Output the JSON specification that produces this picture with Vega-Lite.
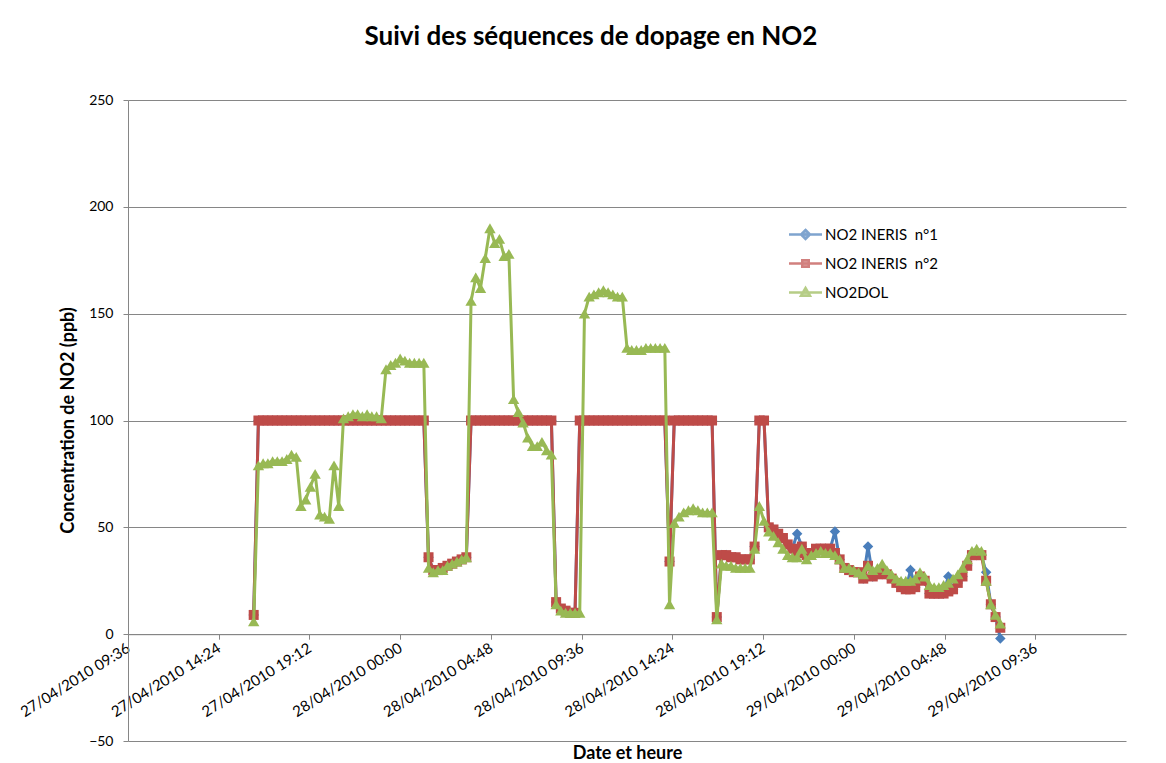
{
"$schema":"https://vega.github.io/schema/vega-lite/v6.json",
"autosize":{"type":"none"},
"padding":{"left":128,"top":100,"right":40,"bottom":22},
"width":998,"height":641,
"background":"white",
"title":{"text":"Suivi des séquences de dopage en NO2","font":"Lato","fontSize":26,"fontWeight":"bold","color":"black","anchor":"middle","dx":-36,"offset":22,"baseline":"alphabetic"},
"config":{"view":{"stroke":null}},
"data":{"values":[
{"t":"2010-04-27T16:15","n1":9,"n2":9,"dol":6},
{"t":"2010-04-27T16:30","n1":100,"n2":100,"dol":79},
{"t":"2010-04-27T16:45","n1":100,"n2":100,"dol":80},
{"t":"2010-04-27T17:00","n1":100,"n2":100,"dol":80},
{"t":"2010-04-27T17:15","n1":100,"n2":100,"dol":81},
{"t":"2010-04-27T17:30","n1":100,"n2":100,"dol":81},
{"t":"2010-04-27T17:45","n1":100,"n2":100,"dol":81},
{"t":"2010-04-27T18:00","n1":100,"n2":100,"dol":82},
{"t":"2010-04-27T18:15","n1":100,"n2":100,"dol":84},
{"t":"2010-04-27T18:30","n1":100,"n2":100,"dol":83},
{"t":"2010-04-27T18:45","n1":100,"n2":100,"dol":60},
{"t":"2010-04-27T19:00","n1":100,"n2":100,"dol":63},
{"t":"2010-04-27T19:15","n1":100,"n2":100,"dol":69},
{"t":"2010-04-27T19:30","n1":100,"n2":100,"dol":75},
{"t":"2010-04-27T19:45","n1":100,"n2":100,"dol":56},
{"t":"2010-04-27T20:00","n1":100,"n2":100,"dol":55},
{"t":"2010-04-27T20:15","n1":100,"n2":100,"dol":54},
{"t":"2010-04-27T20:30","n1":100,"n2":100,"dol":79},
{"t":"2010-04-27T20:45","n1":100,"n2":100,"dol":60},
{"t":"2010-04-27T21:00","n1":100,"n2":100,"dol":101},
{"t":"2010-04-27T21:15","n1":100,"n2":100,"dol":102},
{"t":"2010-04-27T21:30","n1":100,"n2":100,"dol":103},
{"t":"2010-04-27T21:45","n1":100,"n2":100,"dol":103},
{"t":"2010-04-27T22:00","n1":100,"n2":100,"dol":102},
{"t":"2010-04-27T22:15","n1":100,"n2":100,"dol":103},
{"t":"2010-04-27T22:30","n1":100,"n2":100,"dol":102},
{"t":"2010-04-27T22:45","n1":100,"n2":100,"dol":102},
{"t":"2010-04-27T23:00","n1":100,"n2":100,"dol":101},
{"t":"2010-04-27T23:15","n1":100,"n2":100,"dol":124},
{"t":"2010-04-27T23:30","n1":100,"n2":100,"dol":126},
{"t":"2010-04-27T23:45","n1":100,"n2":100,"dol":127},
{"t":"2010-04-28T00:00","n1":100,"n2":100,"dol":129},
{"t":"2010-04-28T00:15","n1":100,"n2":100,"dol":128},
{"t":"2010-04-28T00:30","n1":100,"n2":100,"dol":127},
{"t":"2010-04-28T00:45","n1":100,"n2":100,"dol":127},
{"t":"2010-04-28T01:00","n1":100,"n2":100,"dol":127},
{"t":"2010-04-28T01:15","n1":100,"n2":100,"dol":127},
{"t":"2010-04-28T01:30","n1":36,"n2":36,"dol":31},
{"t":"2010-04-28T01:45","n1":30,"n2":30,"dol":29},
{"t":"2010-04-28T02:00","n1":30,"n2":30,"dol":30},
{"t":"2010-04-28T02:15","n1":31,"n2":31,"dol":30},
{"t":"2010-04-28T02:30","n1":32,"n2":32,"dol":32},
{"t":"2010-04-28T02:45","n1":33,"n2":33,"dol":33},
{"t":"2010-04-28T03:00","n1":34,"n2":34,"dol":34},
{"t":"2010-04-28T03:15","n1":35,"n2":35,"dol":35},
{"t":"2010-04-28T03:30","n1":36,"n2":36,"dol":36},
{"t":"2010-04-28T03:45","n1":100,"n2":100,"dol":156},
{"t":"2010-04-28T04:00","n1":100,"n2":100,"dol":167},
{"t":"2010-04-28T04:15","n1":100,"n2":100,"dol":162},
{"t":"2010-04-28T04:30","n1":100,"n2":100,"dol":176},
{"t":"2010-04-28T04:45","n1":100,"n2":100,"dol":190},
{"t":"2010-04-28T05:00","n1":100,"n2":100,"dol":183},
{"t":"2010-04-28T05:15","n1":100,"n2":100,"dol":185},
{"t":"2010-04-28T05:30","n1":100,"n2":100,"dol":177},
{"t":"2010-04-28T05:45","n1":100,"n2":100,"dol":178},
{"t":"2010-04-28T06:00","n1":100,"n2":100,"dol":110},
{"t":"2010-04-28T06:15","n1":100,"n2":100,"dol":104},
{"t":"2010-04-28T06:30","n1":100,"n2":100,"dol":99},
{"t":"2010-04-28T06:45","n1":100,"n2":100,"dol":92},
{"t":"2010-04-28T07:00","n1":100,"n2":100,"dol":88},
{"t":"2010-04-28T07:15","n1":100,"n2":100,"dol":88},
{"t":"2010-04-28T07:30","n1":100,"n2":100,"dol":90},
{"t":"2010-04-28T07:45","n1":100,"n2":100,"dol":86},
{"t":"2010-04-28T08:00","n1":100,"n2":100,"dol":84},
{"t":"2010-04-28T08:15","n1":15,"n2":15,"dol":14},
{"t":"2010-04-28T08:30","n1":12,"n2":12,"dol":11},
{"t":"2010-04-28T08:45","n1":11,"n2":11,"dol":10},
{"t":"2010-04-28T09:00","n1":10,"n2":10,"dol":10},
{"t":"2010-04-28T09:15","n1":10,"n2":10,"dol":10},
{"t":"2010-04-28T09:30","n1":100,"n2":100,"dol":10},
{"t":"2010-04-28T09:45","n1":100,"n2":100,"dol":150},
{"t":"2010-04-28T10:00","n1":100,"n2":100,"dol":158},
{"t":"2010-04-28T10:15","n1":100,"n2":100,"dol":159},
{"t":"2010-04-28T10:30","n1":100,"n2":100,"dol":160},
{"t":"2010-04-28T10:45","n1":100,"n2":100,"dol":161},
{"t":"2010-04-28T11:00","n1":100,"n2":100,"dol":160},
{"t":"2010-04-28T11:15","n1":100,"n2":100,"dol":159},
{"t":"2010-04-28T11:30","n1":100,"n2":100,"dol":158},
{"t":"2010-04-28T11:45","n1":100,"n2":100,"dol":158},
{"t":"2010-04-28T12:00","n1":100,"n2":100,"dol":134},
{"t":"2010-04-28T12:15","n1":100,"n2":100,"dol":133},
{"t":"2010-04-28T12:30","n1":100,"n2":100,"dol":133},
{"t":"2010-04-28T12:45","n1":100,"n2":100,"dol":133},
{"t":"2010-04-28T13:00","n1":100,"n2":100,"dol":134},
{"t":"2010-04-28T13:15","n1":100,"n2":100,"dol":134},
{"t":"2010-04-28T13:30","n1":100,"n2":100,"dol":134},
{"t":"2010-04-28T13:45","n1":100,"n2":100,"dol":134},
{"t":"2010-04-28T14:00","n1":100,"n2":100,"dol":134},
{"t":"2010-04-28T14:15","n1":34,"n2":34,"dol":14},
{"t":"2010-04-28T14:30","n1":100,"n2":100,"dol":52},
{"t":"2010-04-28T14:45","n1":100,"n2":100,"dol":55},
{"t":"2010-04-28T15:00","n1":100,"n2":100,"dol":57},
{"t":"2010-04-28T15:15","n1":100,"n2":100,"dol":58},
{"t":"2010-04-28T15:30","n1":100,"n2":100,"dol":59},
{"t":"2010-04-28T15:45","n1":100,"n2":100,"dol":58},
{"t":"2010-04-28T16:00","n1":100,"n2":100,"dol":57},
{"t":"2010-04-28T16:15","n1":100,"n2":100,"dol":57},
{"t":"2010-04-28T16:30","n1":100,"n2":100,"dol":57},
{"t":"2010-04-28T16:45","n1":8,"n2":8,"dol":7},
{"t":"2010-04-28T17:00","n1":37,"n2":37,"dol":33},
{"t":"2010-04-28T17:15","n1":37,"n2":37,"dol":32},
{"t":"2010-04-28T17:30","n1":36,"n2":36,"dol":32},
{"t":"2010-04-28T17:45","n1":36,"n2":36,"dol":31},
{"t":"2010-04-28T18:00","n1":35,"n2":35,"dol":31},
{"t":"2010-04-28T18:15","n1":35,"n2":35,"dol":31},
{"t":"2010-04-28T18:30","n1":35,"n2":35,"dol":31},
{"t":"2010-04-28T18:45","n1":41,"n2":41,"dol":40},
{"t":"2010-04-28T19:00","n1":100,"n2":100,"dol":60},
{"t":"2010-04-28T19:15","n1":100,"n2":100,"dol":53},
{"t":"2010-04-28T19:30","n1":50,"n2":50,"dol":48},
{"t":"2010-04-28T19:45","n1":49,"n2":49,"dol":46},
{"t":"2010-04-28T20:00","n1":47,"n2":47,"dol":43},
{"t":"2010-04-28T20:15","n1":45,"n2":45,"dol":40},
{"t":"2010-04-28T20:30","n1":42,"n2":42,"dol":37},
{"t":"2010-04-28T20:45","n1":40,"n2":40,"dol":36},
{"t":"2010-04-28T21:00","n1":47,"n2":38,"dol":36},
{"t":"2010-04-28T21:15","n1":41,"n2":41,"dol":40},
{"t":"2010-04-28T21:30","n1":37,"n2":37,"dol":35},
{"t":"2010-04-28T21:45","n1":38,"n2":38,"dol":37},
{"t":"2010-04-28T22:00","n1":40,"n2":40,"dol":38},
{"t":"2010-04-28T22:15","n1":40,"n2":40,"dol":39},
{"t":"2010-04-28T22:30","n1":40,"n2":40,"dol":38},
{"t":"2010-04-28T22:45","n1":40,"n2":40,"dol":38},
{"t":"2010-04-28T23:00","n1":48,"n2":38,"dol":37},
{"t":"2010-04-28T23:15","n1":35,"n2":35,"dol":35},
{"t":"2010-04-28T23:30","n1":31,"n2":31,"dol":31},
{"t":"2010-04-28T23:45","n1":30,"n2":30,"dol":31},
{"t":"2010-04-29T00:00","n1":29,"n2":29,"dol":30},
{"t":"2010-04-29T00:15","n1":29,"n2":29,"dol":29},
{"t":"2010-04-29T00:30","n1":26,"n2":26,"dol":28},
{"t":"2010-04-29T00:45","n1":41,"n2":32,"dol":32},
{"t":"2010-04-29T01:00","n1":27,"n2":27,"dol":30},
{"t":"2010-04-29T01:15","n1":28,"n2":28,"dol":31},
{"t":"2010-04-29T01:30","n1":29,"n2":29,"dol":33},
{"t":"2010-04-29T01:45","n1":28,"n2":28,"dol":30},
{"t":"2010-04-29T02:00","n1":26,"n2":26,"dol":28},
{"t":"2010-04-29T02:15","n1":24,"n2":24,"dol":26},
{"t":"2010-04-29T02:30","n1":22,"n2":22,"dol":25},
{"t":"2010-04-29T02:45","n1":21,"n2":21,"dol":25},
{"t":"2010-04-29T03:00","n1":30,"n2":21,"dol":25},
{"t":"2010-04-29T03:15","n1":22,"n2":22,"dol":26},
{"t":"2010-04-29T03:30","n1":27,"n2":27,"dol":29},
{"t":"2010-04-29T03:45","n1":25,"n2":25,"dol":27},
{"t":"2010-04-29T04:00","n1":19,"n2":19,"dol":23},
{"t":"2010-04-29T04:15","n1":19,"n2":19,"dol":22},
{"t":"2010-04-29T04:30","n1":19,"n2":19,"dol":22},
{"t":"2010-04-29T04:45","n1":19,"n2":19,"dol":23},
{"t":"2010-04-29T05:00","n1":27,"n2":20,"dol":24},
{"t":"2010-04-29T05:15","n1":21,"n2":21,"dol":26},
{"t":"2010-04-29T05:30","n1":24,"n2":24,"dol":28},
{"t":"2010-04-29T05:45","n1":27,"n2":27,"dol":31},
{"t":"2010-04-29T06:00","n1":32,"n2":32,"dol":35},
{"t":"2010-04-29T06:15","n1":37,"n2":37,"dol":39},
{"t":"2010-04-29T06:30","n1":37,"n2":37,"dol":40},
{"t":"2010-04-29T06:45","n1":37,"n2":37,"dol":39},
{"t":"2010-04-29T07:00","n1":29,"n2":25,"dol":25},
{"t":"2010-04-29T07:15","n1":14,"n2":14,"dol":14},
{"t":"2010-04-29T07:30","n1":8,"n2":8,"dol":9},
{"t":"2010-04-29T07:45","n1":-2,"n2":3,"dol":5}
]},
"transform":[{"fold":["n1","n2","dol"],"as":["k","v"]}],
"encoding":{
 "x":{"field":"t","type":"temporal","scale":{"domain":[{"year":2010,"month":4,"date":27,"hours":9,"minutes":36},{"year":2010,"month":4,"date":29,"hours":14,"minutes":24}],"nice":false},
  "axis":{"values":[{"year":2010,"month":4,"date":27,"hours":9,"minutes":36},{"year":2010,"month":4,"date":27,"hours":14,"minutes":24},{"year":2010,"month":4,"date":27,"hours":19,"minutes":12},{"year":2010,"month":4,"date":28,"hours":0,"minutes":0},{"year":2010,"month":4,"date":28,"hours":4,"minutes":48},{"year":2010,"month":4,"date":28,"hours":9,"minutes":36},{"year":2010,"month":4,"date":28,"hours":14,"minutes":24},{"year":2010,"month":4,"date":28,"hours":19,"minutes":12},{"year":2010,"month":4,"date":29,"hours":0,"minutes":0},{"year":2010,"month":4,"date":29,"hours":4,"minutes":48},{"year":2010,"month":4,"date":29,"hours":9,"minutes":36}],
   "format":"%d/%m/%Y %H:%M","labelAngle":-32,"labelAlign":"right","labelBaseline":"middle","labelPadding":7,"labelFont":"Lato","labelFontSize":15,"labelColor":"black","labelOverlap":false,"labelFlush":false,"labelBound":false,
   "grid":false,"domainColor":"#868686","tickColor":"#868686","tickSize":5,"offset":-106.8,
   "title":"Date et heure","titleFont":"Lato","titleFontSize":18,"titleFontWeight":"bold","titleColor":"black","titleY":124,"titleAlign":"center","titleBaseline":"alphabetic"}},
 "y":{"field":"v","type":"quantitative","scale":{"domain":[-50,250],"nice":false,"zero":false},
  "axis":{"values":[-50,0,50,100,150,200,250],"grid":true,"gridColor":"#868686","domainColor":"#868686","tickColor":"#868686","tickSize":5,"labelPadding":10,"labelFont":"Lato","labelFontSize":14,"labelColor":"black",
   "title":"Concentration de NO2 (ppb)","titleFont":"Lato","titleFontSize":18,"titleFontWeight":"bold","titleColor":"black","titleX":-55,"titleY":320,"titleAngle":-90,"titleAlign":"center","titleBaseline":"alphabetic"}},
 "color":{"field":"k","type":"nominal","scale":{"domain":["dol","n1","n2"],"range":["#98B954","#4A7EBB","#BE4B48"]},"legend":null}
},
"layer":[
 {"transform":[{"filter":"datum.k == 'n1'"}],"mark":{"type":"line","strokeWidth":3,"point":{"filled":true,"shape":"diamond","size":110}}},
 {"transform":[{"filter":"datum.k == 'n2'"}],"mark":{"type":"line","strokeWidth":3,"point":{"filled":true,"shape":"square","size":100}}},
 {"transform":[{"filter":"datum.k == 'dol'"}],"mark":{"type":"line","strokeWidth":3,"point":{"filled":true,"shape":"triangle-up","size":130}}},
 {"transform":[{"filter":"datum.v > 9999"}],"mark":{"type":"point","filled":true,"strokeWidth":2.5},
  "encoding":{
   "fill":{"field":"k","type":"nominal","scale":{"domain":["n1","n2","dol"],"range":["#4A7EBB","#BE4B48","#98B954"]},
    "legend":{"orient":"none","legendX":670,"legendY":127,"title":null,"padding":0,"labelFont":"Lato","labelFontSize":15,"labelColor":"black","symbolSize":100,"symbolStrokeWidth":2.5,"labelOffset":12,"rowPadding":11,"labelExpr":"datum.value == 'n1' ? 'NO2 INERIS\u00a0 n°1' : datum.value == 'n2' ? 'NO2 INERIS\u00a0 n°2' : 'NO2DOL'"}},
   "stroke":{"field":"k","type":"nominal","scale":{"domain":["n1","n2","dol"],"range":["#4A7EBB","#BE4B48","#98B954"]},
    "legend":{"orient":"none","legendX":670,"legendY":127,"title":null,"padding":0,"labelFont":"Lato","labelFontSize":15,"labelColor":"black","symbolSize":100,"symbolStrokeWidth":2.5,"labelOffset":12,"rowPadding":11,"labelExpr":"datum.value == 'n1' ? 'NO2 INERIS\u00a0 n°1' : datum.value == 'n2' ? 'NO2 INERIS\u00a0 n°2' : 'NO2DOL'"}},
   "shape":{"field":"k","type":"nominal","scale":{"domain":["n1","n2","dol"],"range":["M-3.3,0H3.3M0,-0.9L0.9,0L0,0.9L-0.9,0Z","M-3.3,0H3.3M-0.65,-0.65H0.65V0.65H-0.65Z","M-3.3,0H3.3M0,-0.9L0.9,0.65H-0.9Z"]},
    "legend":{"orient":"none","legendX":670,"legendY":127,"title":null,"padding":0,"labelFont":"Lato","labelFontSize":15,"labelColor":"black","symbolSize":100,"symbolStrokeWidth":2.5,"labelOffset":12,"rowPadding":11,"labelExpr":"datum.value == 'n1' ? 'NO2 INERIS\u00a0 n°1' : datum.value == 'n2' ? 'NO2 INERIS\u00a0 n°2' : 'NO2DOL'"}}}}
]
}
